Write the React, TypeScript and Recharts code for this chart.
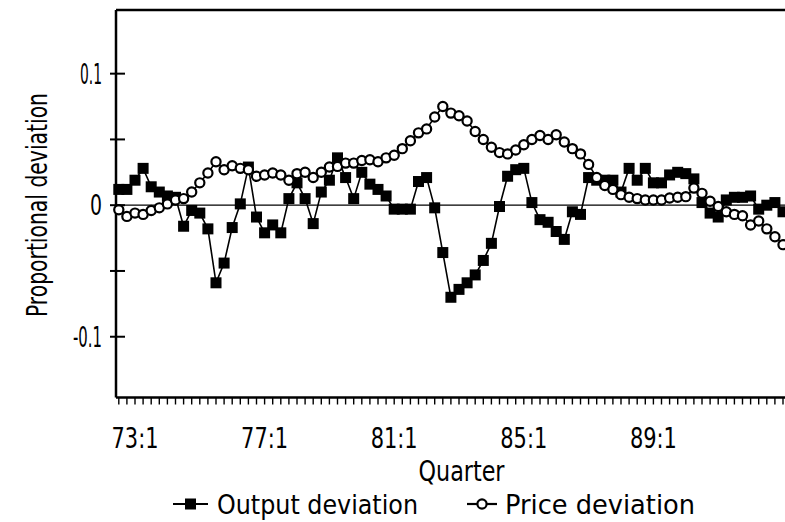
import * as React from 'react';
import { LineChart, Line, XAxis, YAxis, ReferenceLine, Legend, Label } from 'recharts';

// quarters 72:3 .. 93:1
const quarters = [
  '72:3', '72:4',
  '73:1', '73:2', '73:3', '73:4', '74:1', '74:2', '74:3', '74:4',
  '75:1', '75:2', '75:3', '75:4', '76:1', '76:2', '76:3', '76:4',
  '77:1', '77:2', '77:3', '77:4', '78:1', '78:2', '78:3', '78:4',
  '79:1', '79:2', '79:3', '79:4', '80:1', '80:2', '80:3', '80:4',
  '81:1', '81:2', '81:3', '81:4', '82:1', '82:2', '82:3', '82:4',
  '83:1', '83:2', '83:3', '83:4', '84:1', '84:2', '84:3', '84:4',
  '85:1', '85:2', '85:3', '85:4', '86:1', '86:2', '86:3', '86:4',
  '87:1', '87:2', '87:3', '87:4', '88:1', '88:2', '88:3', '88:4',
  '89:1', '89:2', '89:3', '89:4', '90:1', '90:2', '90:3', '90:4',
  '91:1', '91:2', '91:3', '91:4', '92:1', '92:2', '92:3', '92:4',
  '93:1',
];

const outputDeviation = [
  0.012, 0.012, 0.019, 0.028, 0.014, 0.010, 0.007, 0.006, -0.016, -0.004,
  -0.006, -0.018, -0.059, -0.044, -0.017, 0.001, 0.029, -0.009, -0.021, -0.015,
  -0.021, 0.005, 0.017, 0.005, -0.014, 0.010, 0.019, 0.036, 0.021, 0.005,
  0.025, 0.016, 0.012, 0.007, -0.003, -0.003, -0.003, 0.018, 0.021, -0.002,
  -0.036, -0.070, -0.064, -0.059, -0.053, -0.042, -0.029, -0.001, 0.022, 0.027,
  0.028, 0.002, -0.011, -0.013, -0.020, -0.026, -0.005, -0.007, 0.021, 0.019,
  0.019, 0.019, 0.010, 0.028, 0.019, 0.028, 0.017, 0.017, 0.023, 0.025,
  0.024, 0.020, 0.002, -0.006, -0.009, 0.004, 0.006, 0.006, 0.007, -0.003,
  0.000, 0.002, -0.005,
];

const priceDeviation = [
  -0.0035, -0.0085, -0.006, -0.007, -0.004, -0.002, 0.001, 0.004, 0.005, 0.010,
  0.017, 0.0245, 0.033, 0.027, 0.030, 0.028, 0.027, 0.022, 0.023, 0.0245,
  0.023, 0.019, 0.024, 0.025, 0.021, 0.025, 0.029, 0.0295, 0.032, 0.032,
  0.034, 0.0346, 0.033, 0.036, 0.038, 0.043, 0.049, 0.055, 0.058, 0.067,
  0.075, 0.070, 0.068, 0.064, 0.056, 0.050, 0.044, 0.040, 0.039, 0.042,
  0.046, 0.050, 0.053, 0.050, 0.0536, 0.048, 0.043, 0.039, 0.031, 0.021,
  0.015, 0.012, 0.008, 0.006, 0.005, 0.004, 0.004, 0.004, 0.0055, 0.006,
  0.0065, 0.013, 0.009, 0.003, -0.001, -0.005, -0.007, -0.008, -0.015, -0.012,
  -0.018, -0.024, -0.030,
];

const xTickLabels = ['73:1', '77:1', '81:1', '85:1', '89:1'];
const yTicks = [-0.1, -0.05, 0, 0.05, 0.1];
const yTickLabels: { [k: string]: string } = { '0.1': '0.1', '0': '0', '-0.1': '-0.1' };

const Y_MIN = -0.1462;
const Y_MAX = 0.1484;

// the scan uses a tall, narrow face; squeeze DejaVu Condensed to the same widths
const FONT = "'DejaVu Sans Condensed', 'Liberation Sans', sans-serif";

const data = quarters.map((q, i) => ({
  quarter: q,
  output: outputDeviation[i],
  price: priceDeviation[i],
}));

const SquareDot = (props: any) => {
  const { cx, cy } = props;
  if (cx == null || cy == null) return null;
  return <rect x={cx - 5.5} y={cy - 5.5} width={11} height={11} fill="#000" />;
};

const CircleDot = (props: any) => {
  const { cx, cy } = props;
  if (cx == null || cy == null) return null;
  return <circle cx={cx} cy={cy} r={4.6} fill="#fff" stroke="#000" strokeWidth={2.2} />;
};

const XTick = (props: any) => {
  const { x, y, payload } = props;
  if (!xTickLabels.includes(payload.value)) return <g />;
  return (
    <text
      x={x}
      y={y + 41}
      textAnchor="middle"
      fontFamily={FONT}
      fontSize={28}
      textLength={47}
      lengthAdjust="spacingAndGlyphs"
      fill="#000"
    >
      {payload.value}
    </text>
  );
};

const yLabelWidth: { [k: string]: number } = { '0.1': 22, '0': 12, '-0.1': 29 };

const YTick = (props: any) => {
  const { x, y, payload } = props;
  const label = yTickLabels[String(payload.value)];
  return (
    <g>
      <line x1={x + 8} x2={x + 23} y1={y} y2={y} stroke="#000" strokeWidth={2} />
      {label && (
        <text
          x={x}
          y={y}
          dy={10}
          textAnchor="end"
          fontFamily={FONT}
          fontSize={29}
          textLength={yLabelWidth[label]}
          lengthAdjust="spacingAndGlyphs"
          fill="#000"
        >
          {label}
        </text>
      )}
    </g>
  );
};

const YTitle = () => (
  <text
    transform="translate(47,205) rotate(-90)"
    textAnchor="middle"
    fontFamily={FONT}
    fontSize={28}
    textLength={224}
    lengthAdjust="spacingAndGlyphs"
    fill="#000"
  >
    Proportional deviation
  </text>
);

const XTitle = (props: any) => {
  const vb = props.viewBox || { x: 116, width: 691 };
  return (
    <text
      x={vb.x + vb.width / 2}
      y={481}
      textAnchor="middle"
      fontFamily={FONT}
      fontSize={29}
      textLength={86}
      lengthAdjust="spacingAndGlyphs"
      fill="#000"
    >
      Quarter
    </text>
  );
};

const LegendContent = () => (
  <svg width={785} height={34} style={{ display: 'block' }}>
    <line x1={173} x2={208} y1={16} y2={16} stroke="#000" strokeWidth={2.2} />
    <rect x={185} y={10.5} width={11} height={11} fill="#000" />
    <text x={217} y={26} fontFamily={FONT} fontSize={27} textLength={201} lengthAdjust="spacingAndGlyphs" fill="#000">
      Output deviation
    </text>
    <line x1={467} x2={497} y1={16} y2={16} stroke="#000" strokeWidth={2.2} />
    <circle cx={482} cy={16} r={4.6} fill="#fff" stroke="#000" strokeWidth={2.2} />
    <text x={505} y={26} fontFamily={FONT} fontSize={27} textLength={190} lengthAdjust="spacingAndGlyphs" fill="#000">
      Price deviation
    </text>
  </svg>
);

export default function App() {
  return (
    <div style={{ position: 'fixed', left: 0, top: 0, width: 785, height: 522, overflow: 'hidden', background: '#fff' }}>
      <LineChart width={830} height={522} data={data} margin={{ top: 10, right: 23, bottom: 0, left: 0 }}>
        <XAxis
          dataKey="quarter"
          type="category"
          interval={0}
          height={124.5}
          padding={{ left: 2.8, right: 24 }}
          axisLine={{ stroke: '#000', strokeWidth: 2.5 }}
          tickLine={{ stroke: '#000', strokeWidth: 1.4 }}
          tickSize={7}
          tick={<XTick />}
        >
          <Label content={<XTitle />} />
        </XAxis>
        <YAxis
          type="number"
          domain={[Y_MIN, Y_MAX]}
          ticks={yTicks}
          allowDataOverflow
          width={116}
          axisLine={{ stroke: '#000', strokeWidth: 2.5 }}
          tickLine={false}
          tickMargin={8}
          tick={<YTick />}
        >
          <Label content={<YTitle />} />
        </YAxis>
        <ReferenceLine y={Y_MAX} stroke="#000" strokeWidth={2.5} />
        <ReferenceLine y={0} stroke="#000" strokeWidth={1.3} />
        <Legend
          layout="horizontal"
          verticalAlign="middle"
          align="center"
          content={<LegendContent />}
          wrapperStyle={{ top: 488, left: 0, width: 785, height: 34 }}
        />
        <Line
          dataKey="output"
          name="Output deviation"
          stroke="#000"
          strokeWidth={1.6}
          dot={<SquareDot />}
          activeDot={false}
          isAnimationActive={false}
        />
        <Line
          dataKey="price"
          name="Price deviation"
          stroke="#000"
          strokeWidth={1.6}
          dot={<CircleDot />}
          activeDot={false}
          isAnimationActive={false}
        />
      </LineChart>
    </div>
  );
}
